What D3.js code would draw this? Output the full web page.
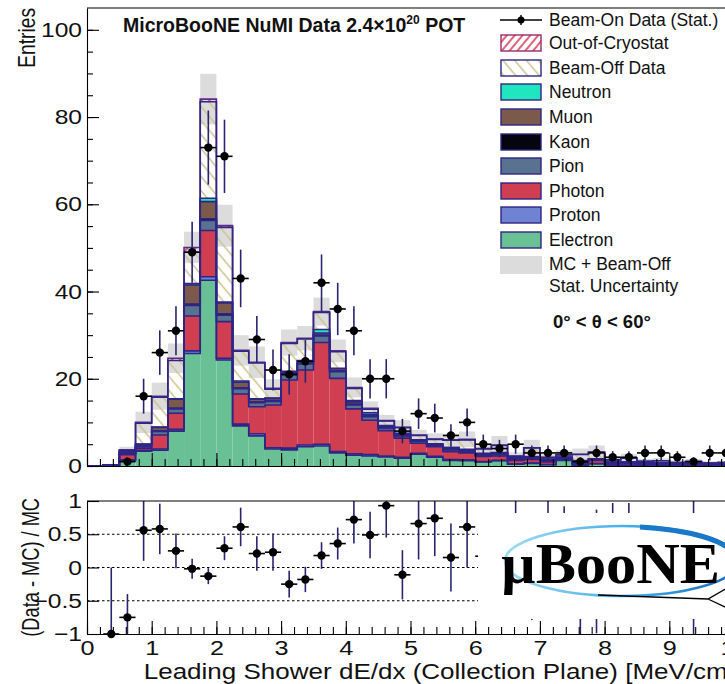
<!DOCTYPE html>
<html><head><meta charset="utf-8">
<script src="https://cdn.jsdelivr.net/npm/d3@7"></script>
<style>body{margin:0;background:#fff}svg{display:block}</style>
</head><body>
<svg id="c" width="725" height="684"></svg>
<script>
// ---------------- DATA ----------------
const binWidth = 0.25;
const binLow = [0,0.25,0.5,0.75,1,1.25,1.5,1.75,2,2.25,2.5,2.75,3,3.25,3.5,3.75,4,4.25,4.5,4.75,
                5,5.25,5.5,5.75,6,6.25,6.5,6.75,7,7.25,7.5,7.75,8,8.25,8.5,8.75,9,9.25,9.5,9.75];
const electron = [0,0.1,1.2,3.4,3.6,8.0,25.8,42.6,24.3,9.2,6.9,3.9,3.7,4.4,4.6,3.0,2.5,2.3,2.1,1.8,
                  2.7,2.0,1.3,1.2,0.9,1.2,0.4,0.6,0.3,1.3,0.2,0.5,0.1,0.1,0.1,0.1,0.05,0.05,0.05,0.05];
const proton   = [0,0,0.2,0.2,0.3,0.4,0.6,0.8,0.4,0.4,0.5,0.3,0.4,0.4,0.4,0.3,0.3,0.3,0.2,0.2,
                  0.2,0.2,0.2,0.2,0.1,0.1,0.1,0.1,0.05,0.05,0.05,0.05,0.05,0.05,0,0,0,0,0,0];
const photon   = [0,0.1,1.2,0.5,3.2,3.7,8.0,10.6,8.4,6.9,6.2,9.8,15.6,17.2,23.3,16.8,10.3,7.9,5.8,4.4,
                  2.3,2.2,1.8,1.6,1.2,1.0,0.8,0.8,0.6,0.3,0.3,0.7,0.3,0.4,0.3,0.2,0.2,0.2,0.1,0.2];
const pion     = [0,0,0.3,0.4,0.8,1.0,2.4,2.3,1.5,1.2,0.9,0.8,1.2,1.4,1.5,1.5,0.9,0.8,0.6,0.5,
                  0.4,0.3,0.4,0.3,0.3,0.3,0.2,0.2,0.2,0.1,0.1,0.1,0.1,0.1,0.1,0.1,0.05,0.05,0.05,0.05];
const kaon     = [0,0,0.05,0.1,0.15,0.2,0.3,0.4,0.3,0.2,0.2,0.2,0.2,0.2,0.2,0.2,0.2,0.2,0.1,0.1,
                  0.1,0.1,0.3,0.2,0.2,0.3,0.3,0.3,0.3,0.2,0.5,0.2,0.3,0.2,0.2,0.3,0.2,0.3,0.3,0.3];
const muon     = [0,0,0.3,0.4,0.8,2.0,4.4,3.9,2.5,1.3,0.6,0.5,0.3,0.5,0.5,0.5,0.5,0.3,0.3,0.3,
                  0.2,0.2,0.2,0.2,0.1,0.1,0.1,0.1,0.1,0.05,0.05,0.05,0.05,0.05,0.05,0.05,0,0,0,0];
const neutron  = [0,0,0.05,0.05,0.1,0.1,0.3,0.8,0.2,0.3,0.1,0.1,0.3,0.1,0.8,0.1,0.3,0.4,0.2,0.2,
                  0.1,0.1,0.1,0.1,0.1,0.1,0.05,0.05,0.05,0.05,0.05,0.05,0,0,0,0,0,0,0,0];
const beamOff  = [0,0.1,0.3,4.75,6.8,8.8,7.2,22.1,17.1,6.8,8.2,2.0,6.4,4.9,3.9,3.8,2.8,0.8,1.0,1.3,
                  1.0,1.0,1.6,2.2,1.0,1.6,0.3,2.0,0.35,0.5,1.4,1.5,0.5,0.9,0.35,0.45,0.3,0.4,0.2,0.2];
const outCryo  = [0,0,0.1,0.2,0.25,0.5,1.1,0.6,0.4,0.2,0.2,0.2,0.2,0.2,0.2,0.2,0.2,0.2,0.1,0.1,
                  0.1,0.1,0.1,0.1,0.1,0.1,0.05,0.05,0.05,0.05,0.05,0.05,0,0,0,0,0,0,0,0];
const statErr  = [0,0.2,0.7,2.45,3.1,3.4,3.6,5.8,4.8,3.5,3.6,2.1,3.0,2.8,3.2,2.6,2.3,1.6,1.3,1.6,
                  1.2,1.3,1.4,1.8,1.0,2.1,0.8,1.8,0.8,1.0,1.3,1.5,0.9,1.0,0.5,0.6,0.5,0.6,0.4,0.4];
const dataCounts = [0,0,1,16,26,31,49,73,71,43,29,22,21,24,42,36,31,20,20,8,
                    12,11,7,10,5,4,5,3,3,3,1,3,2,2,3,3,2,1,3,3];
const dataErr    = [0,0,1,4,5.1,5.6,7,8.5,8.4,6.6,5.4,4.7,4.6,4.9,6.5,6,5.6,4.5,4.5,2.8,
                    3.5,3.3,2.6,3.2,2.2,2,2.2,1.7,1.7,1.7,1,1.7,1.4,1.4,1.7,1.7,1.4,1,1.7,1.7];
const ratioVal = [null,-1.0,-0.75,0.56,0.58,0.25,-0.02,-0.13,0.29,0.61,0.21,0.23,-0.25,-0.18,0.18,0.36,0.72,0.49,0.93,-0.11,
                  0.66,0.74,0.15,0.61,0.17,-0.17,1.17,-0.29,0.5,0.2,-0.62,-0.06,0.43,0.11,1.7,1.7,1.5,0.0,1.7,1.7];
const ratioErr = [null,1.0,0.35,0.46,0.38,0.26,0.15,0.12,0.18,0.29,0.26,0.28,0.20,0.19,0.20,0.24,0.36,0.35,0.48,0.37,
                  0.54,0.57,0.51,0.61,0.6,0.5,1.0,0.5,0.9,0.72,0.4,0.93,0.54,0.86,0.6,0.6,0.4,1.0,0.6,0.6];
const yTicksMain = [0,20,40,60,80,100];
const yTicksRatio = [-1,-0.5,0,0.5,1];
const xTicks = [0,1,2,3,4,5,6,7,8,9,10];
const refLines = [-0.5,0,0.5];

const keys = ["electron","proton","photon","pion","kaon","muon","neutron","beamOff","outCryo"];
const series = {electron,proton,photon,pion,kaon,muon,neutron,beamOff,outCryo};
const legendItems = [
  {key:"outCryo",label:"Out-of-Cryostat"},
  {key:"beamOff",label:"Beam-Off Data"},
  {key:"neutron",label:"Neutron"},
  {key:"muon",label:"Muon"},
  {key:"kaon",label:"Kaon"},
  {key:"pion",label:"Pion"},
  {key:"photon",label:"Photon"},
  {key:"proton",label:"Proton"},
  {key:"electron",label:"Electron"}
];

// ---------------- STYLE ----------------
const fills = {electron:"#69c094",proton:"#7083d2",photon:"#d03e52",pion:"#587290",kaon:"#050510",
               muon:"#7b5a4b",neutron:"#1fe6bf",beamOff:"url(#hBoff)",outCryo:"url(#hOoc)"};
const lineCol = "#2e2585";
const FONT = "'Liberation Sans', Arial, Helvetica, sans-serif";
const SX = 1.2;
const LBL = 20.5;

const svg = d3.select("#c");
const defs = svg.append("defs");
const pB = defs.append("pattern").attr("id","hBoff").attr("patternUnits","userSpaceOnUse")
  .attr("width",9).attr("height",9).attr("patternTransform","rotate(-40)");
pB.append("line").attr("x1",4.5).attr("y1",-1).attr("x2",4.5).attr("y2",10)
  .attr("stroke","#cdc28a").attr("stroke-width",1.5);
const pO = defs.append("pattern").attr("id","hOoc").attr("patternUnits","userSpaceOnUse")
  .attr("width",6).attr("height",6).attr("patternTransform","rotate(40)");
pO.append("line").attr("x1",3).attr("y1",-1).attr("x2",3).attr("y2",7)
  .attr("stroke","#d2304e").attr("stroke-width",1.5);
const grad = defs.append("linearGradient").attr("id","ellG").attr("x1","0").attr("x2","1").attr("y1","0").attr("y2","0");
grad.append("stop").attr("offset","0").attr("stop-color","#9fdcf5");
grad.append("stop").attr("offset","0.6").attr("stop-color","#3aa6e6");
grad.append("stop").attr("offset","1").attr("stop-color","#1565b8");

// ---------------- SCALES ----------------
const x = d3.scaleLinear().domain([0,10]).range([87,734]);
const yM = d3.scaleLinear().domain([0,105]).range([466,8]);
const yR = d3.scaleLinear().domain([-1,1]).range([634,501]);

const rows = binLow.map((lo,i)=>{const r={lo}; keys.forEach(k=>r[k]=series[k][i]); return r;});
const stacked = d3.stack().keys(keys)(rows);
const totals = stacked[stacked.length-1].map(d=>d[1]);

// ---------------- MAIN PANEL ----------------
const gM = svg.append("g");
gM.selectAll("rect.band").data(binLow.map((lo,i)=>({lo,t:totals[i],e:statErr[i]})).filter(d=>d.t>0))
  .join("rect").attr("class","band")
  .attr("x",d=>x(d.lo)).attr("width",d=>x(d.lo+binWidth)-x(d.lo))
  .attr("y",d=>yM(d.t+d.e)).attr("height",d=>yM(Math.max(0,d.t-d.e))-yM(d.t+d.e))
  .attr("fill","#dcdcdc");
stacked.forEach(s=>{
  gM.append("g").selectAll("rect").data(s.filter(d=>d[1]-d[0]>0)).join("rect")
    .attr("x",d=>x(d.data.lo)).attr("width",d=>x(d.data.lo+binWidth)-x(d.data.lo))
    .attr("y",d=>yM(d[1])).attr("height",d=>yM(d[0])-yM(d[1]))
    .attr("fill",fills[s.key]);
});
stacked.slice().reverse().forEach(s=>{
  let p = `M${x(binLow[0])},${yM(0)}`;
  s.forEach(d=>{ p += `V${yM(d[1])}H${x(d.data.lo+binWidth)}`; });
  p += `V${yM(0)}`;
  gM.append("path").attr("d",p).attr("fill","none")
    .attr("stroke", s.key==="outCryo" ? "#5a2a8a" : lineCol).attr("stroke-width",1.6);
});
const dpts = binLow.map((lo,i)=>({lo,v:dataCounts[i],e:dataErr[i]})).filter(d=>d.v>0);
const gD = gM.append("g");
gD.selectAll("line.v").data(dpts).join("line")
  .attr("x1",d=>x(d.lo+binWidth/2)).attr("x2",d=>x(d.lo+binWidth/2))
  .attr("y1",d=>yM(d.v-d.e)).attr("y2",d=>yM(d.v+d.e)).attr("stroke","#2a2470").attr("stroke-width",1.6);
gD.selectAll("line.h").data(dpts).join("line")
  .attr("x1",d=>x(d.lo)).attr("x2",d=>x(d.lo+binWidth))
  .attr("y1",d=>yM(d.v)).attr("y2",d=>yM(d.v)).attr("stroke","#000").attr("stroke-width",1.6);
gD.selectAll("circle").data(dpts).join("circle")
  .attr("cx",d=>x(d.lo+binWidth/2)).attr("cy",d=>yM(d.v)).attr("r",4.2).attr("fill","#000");

function styleAxis(g){ g.selectAll("path,line").attr("stroke","#000").attr("stroke-width",1.1); }
const axYM = gM.append("g").attr("transform",`translate(${x(0)},0)`)
  .call(d3.axisLeft(yM).tickValues(yTicksMain).tickSizeInner(-12).tickSizeOuter(0).tickPadding(5));
axYM.call(styleAxis);
axYM.selectAll("text").attr("font-family",FONT).attr("font-size",LBL).attr("fill","#111")
  .attr("transform",`scale(${SX},1)`).attr("x",-5/SX);
gM.append("g").attr("transform",`translate(${x(0)},0)`)
  .call(d3.axisLeft(yM).tickValues(d3.range(0,105,5)).tickSizeInner(-6).tickSizeOuter(0).tickFormat(""))
  .call(styleAxis).select(".domain").remove();
const axXM = gM.append("g").attr("transform",`translate(0,${yM(0)})`)
  .call(d3.axisBottom(x).tickValues(xTicks).tickSizeInner(-13).tickSizeOuter(0).tickFormat(""));
axXM.call(styleAxis);
gM.append("g").attr("transform",`translate(0,${yM(0)})`)
  .call(d3.axisBottom(x).tickValues(d3.range(0,10.01,0.2)).tickSizeInner(-7).tickSizeOuter(0).tickFormat(""))
  .call(styleAxis).select(".domain").remove();
gM.append("line").attr("x1",x(0)).attr("x2",x(10)).attr("y1",yM(105)).attr("y2",yM(105))
  .attr("stroke","#000").attr("stroke-width",1.1);

svg.append("text").attr("transform",`translate(35,${yM(105)}) rotate(-90) scale(0.8,1)`)
  .attr("text-anchor","end").attr("font-family",FONT).attr("font-size",24).attr("fill","#111").text("Entries");

const tt = svg.append("text").attr("x",123).attr("y",32).attr("font-family",FONT)
  .attr("font-weight","bold").attr("font-size",19.5).attr("fill","#111");
tt.append("tspan").text("MicroBooNE NuMI Data 2.4×10");
tt.append("tspan").attr("font-size",12).attr("dy",-8).text("20");
tt.append("tspan").attr("dy",8).text(" POT");

svg.append("text").attr("x",553).attr("y",328).attr("font-family",FONT).attr("font-weight","bold")
  .attr("font-size",18.5).attr("fill","#111").text("0° < θ < 60°");

// legend
const gL = svg.append("g");
const legY = [43,68,92,117,142,166,191,215,240];
gL.append("line").attr("x1",500).attr("x2",542).attr("y1",20).attr("y2",20).attr("stroke","#000").attr("stroke-width",1.4);
gL.append("line").attr("x1",521).attr("x2",521).attr("y1",15).attr("y2",25).attr("stroke","#000").attr("stroke-width",1.4);
gL.append("circle").attr("cx",521).attr("cy",20).attr("r",3.5).attr("fill","#000");
gL.append("text").attr("x",549).attr("y",26).attr("font-family",FONT).attr("font-size",17.5).attr("fill","#111").text("Beam-On Data (Stat.)");
legendItems.forEach((it,i)=>{
  const hatched = it.key==="beamOff"||it.key==="outCryo";
  gL.append("rect").attr("x",501).attr("y",legY[i]-8).attr("width",40).attr("height",16)
    .attr("fill", hatched ? "#fff" : fills[it.key]);
  gL.append("rect").attr("x",501).attr("y",legY[i]-8).attr("width",40).attr("height",16)
    .attr("fill", hatched ? fills[it.key] : "none")
    .attr("stroke", it.key==="outCryo" ? "#9a2a6a" : lineCol).attr("stroke-width",1.4);
  gL.append("text").attr("x",549).attr("y",legY[i]+6).attr("font-family",FONT).attr("font-size",17.5)
    .attr("fill","#111").text(it.label);
});
gL.append("rect").attr("x",500).attr("y",256).attr("width",42).attr("height",18).attr("fill","#dcdcdc");
gL.append("text").attr("x",549).attr("y",270).attr("font-family",FONT).attr("font-size",17.5).attr("fill","#111").text("MC + Beam-Off");
gL.append("text").attr("x",549).attr("y",292).attr("font-family",FONT).attr("font-size",17.5).attr("fill","#111").text("Stat. Uncertainty");

// ---------------- RATIO PANEL ----------------
const gR = svg.append("g");
defs.append("clipPath").attr("id","clipR").append("rect")
  .attr("x",x(0)).attr("y",yR(1)).attr("width",x(10)-x(0)).attr("height",yR(-1)-yR(1));
gR.selectAll("line.ref").data(refLines).join("line")
  .attr("x1",x(0)).attr("x2",x(10)).attr("y1",d=>yR(d)).attr("y2",d=>yR(d))
  .attr("stroke","#000").attr("stroke-width",1.2).attr("stroke-dasharray","2.5,2.5");
const rpts = binLow.map((lo,i)=>({lo,v:ratioVal[i],e:ratioErr[i]})).filter(d=>d.v!==null);
const gRP = gR.append("g").attr("clip-path","url(#clipR)");
gRP.selectAll("line.v").data(rpts).join("line")
  .attr("x1",d=>x(d.lo+binWidth/2)).attr("x2",d=>x(d.lo+binWidth/2))
  .attr("y1",d=>yR(d.v-d.e)).attr("y2",d=>yR(d.v+d.e)).attr("stroke","#2a2470").attr("stroke-width",1.6);
const inR = rpts.filter(d=>d.v>=-1 && d.v<=1);
gR.selectAll("line.h").data(inR).join("line")
  .attr("x1",d=>x(d.lo)).attr("x2",d=>x(d.lo+binWidth))
  .attr("y1",d=>yR(d.v)).attr("y2",d=>yR(d.v)).attr("stroke","#000").attr("stroke-width",1.6);
gR.selectAll("circle").data(inR).join("circle")
  .attr("cx",d=>x(d.lo+binWidth/2)).attr("cy",d=>yR(d.v)).attr("r",4.2).attr("fill","#000");

// logo box
const gLogo = svg.append("g");
gLogo.append("rect").attr("x",478).attr("y",513).attr("width",260).attr("height",106).attr("fill","#fff");
gLogo.append("ellipse").attr("cx",622).attr("cy",561).attr("rx",117).attr("ry",35)
  .attr("fill","none").attr("stroke","url(#ellG)").attr("stroke-width",2.5);
gLogo.append("path").attr("d","M640,527 C690,530 725,540 737,556")
  .attr("fill","none").attr("stroke","#1a78c8").attr("stroke-width",5);
gLogo.append("text").attr("transform","translate(501,583) scale(1.04,1)")
  .attr("font-family","'Liberation Serif','Times New Roman',serif")
  .attr("font-weight","bold").attr("font-size",58).attr("fill","#000").text("µBooNE");
gLogo.append("path").attr("d","M598,595 L708,599 L727,588 M708,599 L727,608")
  .attr("fill","none").attr("stroke","#000").attr("stroke-width",1.3);

// ratio axes
const axYR = gR.append("g").attr("transform",`translate(${x(0)},0)`)
  .call(d3.axisLeft(yR).tickValues(yTicksRatio).tickSizeInner(-12).tickSizeOuter(0).tickPadding(5)
    .tickFormat(d=>(d<0?"\u2212":"")+Math.abs(d)));
axYR.call(styleAxis);
axYR.selectAll("text").attr("font-family",FONT).attr("font-size",LBL).attr("fill","#111")
  .attr("transform",`scale(${SX},1)`).attr("x",-5/SX);
const axXR = gR.append("g").attr("transform",`translate(0,${yR(-1)})`)
  .call(d3.axisBottom(x).tickValues(xTicks).tickSizeInner(-13).tickSizeOuter(0).tickPadding(6));
axXR.call(styleAxis);
axXR.selectAll("text").attr("font-family",FONT).attr("font-size",21).attr("fill","#111")
  .attr("transform",`scale(${SX},1)`);
gR.append("g").attr("transform",`translate(0,${yR(-1)})`)
  .call(d3.axisBottom(x).tickValues(d3.range(0,10.01,0.2)).tickSizeInner(-7).tickSizeOuter(0).tickFormat(""))
  .call(styleAxis).select(".domain").remove();
gR.append("line").attr("x1",x(0)).attr("x2",x(10)).attr("y1",yR(1)).attr("y2",yR(1))
  .attr("stroke","#000").attr("stroke-width",1.1);

svg.append("text").attr("transform",`translate(39,${yR(1)-3}) rotate(-90) scale(0.76,1)`)
  .attr("text-anchor","end").attr("font-family",FONT).attr("font-size",24).attr("fill","#111").text("(Data - MC) / MC");
svg.append("text").attr("transform",`translate(735,679) scale(1.21,1)`)
  .attr("text-anchor","end").attr("font-family",FONT).attr("font-size",21.5).attr("fill","#111")
  .text("Leading Shower dE/dx (Collection Plane) [MeV/cm]");
</script>
</body></html>
